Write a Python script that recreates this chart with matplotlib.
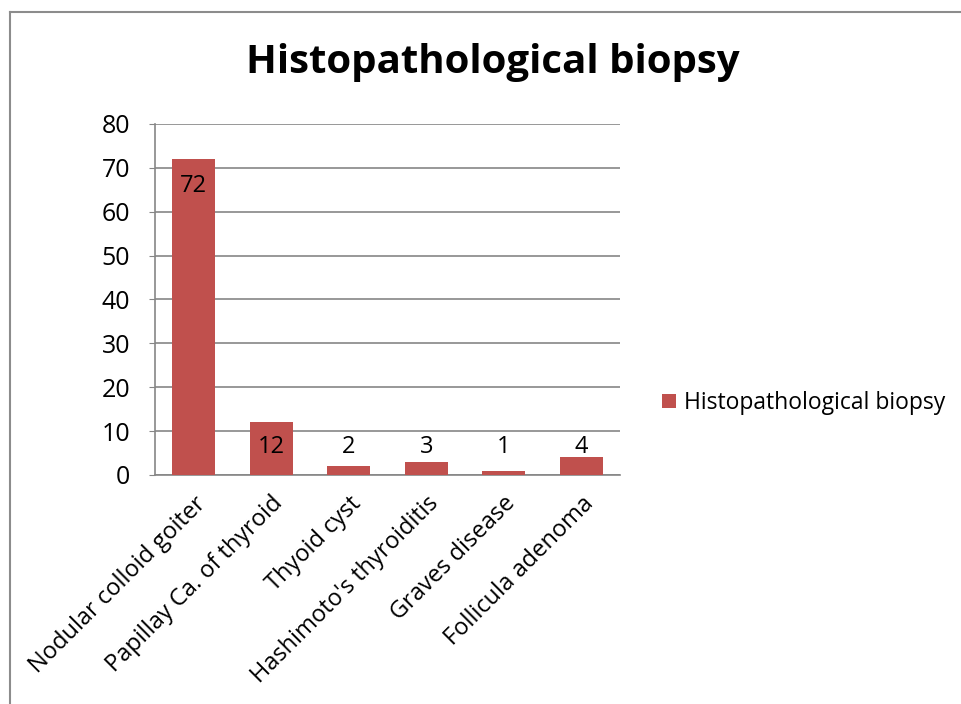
import matplotlib.pyplot as plt
from matplotlib.lines import Line2D
import numpy as np

categories = ["Nodular colloid goiter", "Papillay Ca. of thyroid", "Thyoid cyst",
              "Hashimoto's thyroiditis", "Graves disease", "Follicula adenoma"]
values = [72, 12, 2, 3, 1, 4]
series_name = "Histopathological biopsy"

W, H = 962, 704
bar_color = "#C0504D"
grid_color = "#868686"
font = ["Open Sans", "DejaVu Sans"]

plt.rcParams["font.family"] = font

fig = plt.figure(figsize=(W / 100, H / 100), dpi=100)
ax = fig.add_axes([155 / W, 1 - 475 / H, 465 / W, 351 / H])

x = np.arange(len(categories))
bars = ax.bar(x, values, width=0.56, color=bar_color, zorder=3)

for xi, v in zip(x, values):
    ax.text(xi, max(v - 6.2, 6.3), str(v), ha="center", va="center",
            fontsize=17, color="black", zorder=4)

ax.set_xlim(-0.5, len(categories) - 0.5)
ax.set_ylim(0, 80)
ax.set_yticks(np.arange(0, 81, 10))
ax.yaxis.grid(True, color=grid_color, linewidth=1.2, zorder=0)
ax.set_axisbelow(True)

for s in ["top", "right"]:
    ax.spines[s].set_visible(False)
for s in ["left", "bottom"]:
    ax.spines[s].set_color(grid_color)
    ax.spines[s].set_linewidth(1.2)

ax.tick_params(axis="y", labelsize=18, length=4, color=grid_color, pad=14)
ax.set_xticks(x)
ax.set_xticklabels(categories, rotation=45, ha="right", rotation_mode="anchor",
                   fontsize=17)
ax.tick_params(axis="x", length=0, pad=12)

fig.text(493 / W, 1 - 63 / H, "Histopathological biopsy", ha="center", va="center",
         fontsize=29, fontweight="bold")

ax.legend([bars[0]], [series_name], loc="center left",
          bbox_to_anchor=(662 / W, 1 - 403 / H), bbox_transform=fig.transFigure,
          frameon=False, fontsize=16.5, handlelength=0.6, handleheight=0.6,
          handletextpad=0.35, borderpad=0, borderaxespad=0)

# outer chart border (left and top edges visible)
fig.add_artist(Line2D([10 / W, 10 / W], [1 - 12 / H, -0.1], color="#8c8c8c",
                      linewidth=1.5, transform=fig.transFigure))
fig.add_artist(Line2D([10 / W, 1.1], [1 - 12 / H, 1 - 12 / H], color="#8c8c8c",
                      linewidth=1.5, transform=fig.transFigure))

fig.savefig("out.png", dpi=100)
